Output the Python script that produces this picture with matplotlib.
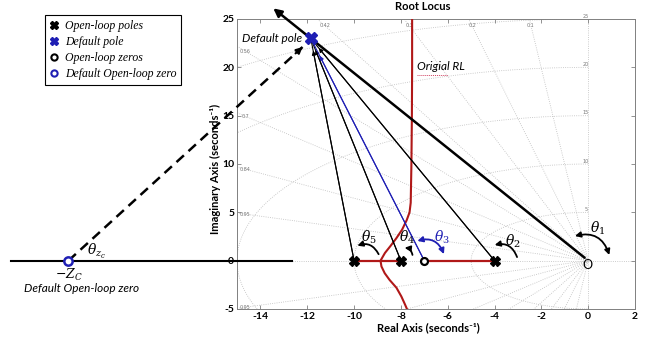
import numpy as np
import matplotlib
matplotlib.use("Agg")
import matplotlib.pyplot as plt
from matplotlib.lines import Line2D
from matplotlib.patches import FancyArrowPatch

plt.rcParams["axes.unicode_minus"] = False
plt.rcParams["mathtext.fontset"] = "dejavuserif"

SANS = ["Lato", "DejaVu Sans"]
SERIF = ["Liberation Serif", "DejaVu Serif"]

# ---- system data -------------------------------------------------------
open_loop_poles = [-10.0, -8.0, -4.0]
open_loop_zeros = [-7.0]
default_pole = (-11.85, 23.0)
default_zero = -22.2

# complex branch of the original root locus
locus_re = [-7.52, -7.52, -7.53, -7.55, -7.58, -7.63, -7.75, -7.95, -8.2,
            -8.45, -8.68, -8.87, -8.83, -8.69, -8.48, -8.19, -7.98, -7.83, -7.74]
locus_im = [25.0, 20.0, 15.0, 10.0, 6.0, 5.0, 4.2, 3.2, 2.3,
            1.5, 0.8, 0.0, -0.6, -1.3, -2.0, -2.8, -3.7, -4.5, -5.0]
# real-axis parts of the locus
real_axis_segments = [(-10.0, -8.0), (-7.0, -4.0)]

# s-plane grid
damping = [0.1, 0.2, 0.3, 0.42, 0.56, 0.7, 0.84, 0.95]
nat_freq = [5, 10, 15, 20, 25]

x_ticks = [-14, -12, -10, -8, -6, -4, -2, 0, 2]
y_ticks = [-5, 0, 5, 10, 15, 20, 25]

# ---- colours ----------------------------------------------------------
RED = "#b01818"
BLUE = "#1f1fb4"
GRID = "#bcbcbc"

fig = plt.figure(figsize=(6.49, 3.38), dpi=100)
ax = fig.add_axes([0.3652, 0.0858, 0.6132, 0.858])
ax.set_xlim(-15, 2)
ax.set_ylim(-5, 25)

# damping-ratio rays and natural-frequency arcs
for z in damping:
    ang = np.arccos(z)
    for s in (1, -1):
        ax.plot([0, -60 * np.cos(ang)], [0, s * 60 * np.sin(ang)], ls=":",
                color=GRID, lw=0.6, zorder=1)
t = np.linspace(np.pi / 2, 3 * np.pi / 2, 300)
for w in nat_freq:
    ax.plot(w * np.cos(t), w * np.sin(t), ls=":", color=GRID, lw=0.6, zorder=1)
ax.axhline(0, ls=":", color=GRID, lw=0.6, zorder=1)
ax.axvline(0, ls=":", color=GRID, lw=0.6, zorder=1)

# grid labels
for z in damping[:4]:
    yl = 24.3
    ax.text(-yl / np.tan(np.arccos(z)), yl, f"{z:g}", fontsize=3.5,
            color="#777777", ha="center", va="center")
for z in damping[4:]:
    xl = -14.65
    ax.text(xl, -xl * np.tan(np.arccos(z)), f"{z:g}", fontsize=3.5,
            color="#777777", ha="center", va="center")
ax.text(-14.65, -4.82, f"{damping[-1]:g}", fontsize=3.5, color="#777777",
        ha="center", va="center")
for w in nat_freq:
    ax.text(-0.1, w + 0.3, f"{w}", fontsize=3.5, color="#777777",
            ha="center", va="center")

# original root locus
ax.plot(locus_re, locus_im, color=RED, lw=1.5, zorder=3)
for a, b in real_axis_segments:
    ax.plot([a, b], [0, 0], color=RED, lw=1.6, zorder=3)

# vectors from the default pole to every pole / zero
px, py = default_pole
for p in open_loop_poles:
    ax.plot([px, p], [py, 0], color="k", lw=0.8, zorder=4)
    ax.annotate("", xy=default_pole, xytext=(p, 0),
                arrowprops=dict(arrowstyle="-|>", color="k", lw=0.8,
                                mutation_scale=6, shrinkA=0, shrinkB=9))
for zz in open_loop_zeros:
    ax.plot([px, zz], [py, 0], color=BLUE, lw=0.8, zorder=4)
    ax.annotate("", xy=default_pole, xytext=(zz, 0),
                arrowprops=dict(arrowstyle="-|>", color=BLUE, lw=0.8,
                                mutation_scale=6, shrinkA=0, shrinkB=14))

# vector from the origin through the default pole
ax.annotate("", xy=(-13.45, 26.1), xytext=(-0.15, 0.3), annotation_clip=False,
            arrowprops=dict(arrowstyle="-|>", color="k", lw=1.8,
                            mutation_scale=12, shrinkA=0, shrinkB=0))

# dashed vector from the compensator zero to the default pole
ax.plot([default_zero, -12.2], [0, 22.1], ls=(0, (4, 2.5)), lw=1.8,
        color="k", clip_on=False, zorder=4)
ax.annotate("", xy=(-12.2, 22.1), xytext=(-12.5, 21.44), annotation_clip=False,
            arrowprops=dict(arrowstyle="-|>", color="k", lw=1.5,
                            mutation_scale=9, shrinkA=0, shrinkB=0))

# horizontal real axis through the compensator zero
ax.plot([-24.66, -12.67], [0, 0], color="k", lw=1.5, clip_on=False, zorder=4)

# angle arcs
arcs = [
    ((-0.68, 2.48), (0.94, 0.31), -0.5, "<|-|>", "k"),
    ((-4.11, 1.55), (-3.0, 0.1), -0.5, "<|-", "k"),
    ((-7.41, 1.96), (-6.12, 0.41), -0.5, "<|-|>", BLUE),
    ((-7.96, 1.34), (-7.49, 0.31), -0.5, "<|-", "k"),
    ((-9.97, 1.45), (-8.9, 0.41), -0.5, "<|-", "k"),
]
for a, b, rad, style, col in arcs:
    ax.add_patch(FancyArrowPatch(a, b, connectionstyle=f"arc3,rad={rad}",
                                 arrowstyle=style, mutation_scale=8, lw=1.3,
                                 color=col, zorder=5))

theta_labels = [
    (0.39, 3.3, r"$\theta_1$", "k"),
    (-3.21, 1.96, r"$\theta_2$", "k"),
    (-6.25, 2.38, r"$\theta_3$", BLUE),
    (-7.75, 2.38, r"$\theta_4$", "k"),
    (-9.38, 2.38, r"$\theta_5$", "k"),
]
for x, y, s, col in theta_labels:
    ax.text(x, y, s, fontsize=10, color=col, ha="center", va="center")
ax.text(-21.02, 0.93, r"$\theta_{z_c}$", fontsize=10, ha="center", va="center")

# markers
ax.plot(open_loop_poles, [0] * len(open_loop_poles), "X", color="k", ms=7,
        zorder=6)
ax.plot(open_loop_zeros, [0] * len(open_loop_zeros), "o", mfc="white",
        mec="k", ms=5, mew=1.6, zorder=6)
ax.plot([default_pole[0]], [default_pole[1]], "X", color=BLUE, ms=8, zorder=6)
ax.plot([default_zero], [0], "o", mfc="white", mec=BLUE, ms=6, mew=1.8,
        clip_on=False, zorder=6)

# annotations
ax.text(-0.04, -0.45, "O", fontsize=9, family=SANS, ha="center", va="center")
ax.text(-12.24, 22.96, "Default pole", fontsize=8.5, family=SANS,
        style="italic", ha="right", va="center")
ax.text(-7.32, 20.06, "Origial RL", fontsize=8.5, family=SANS,
        style="italic", ha="left", va="center")
ax.plot([-7.32, -6.0], [19.25, 19.25], color="#d04060", lw=0.7, ls=(0, (1, 1)))
ax.text(-22.17, -1.45, r"$-Z_C$", fontsize=9, ha="center", va="center")
ax.text(-21.62, -2.9, "Default Open-loop zero", fontsize=8.5, family=SANS,
        style="italic", ha="center", va="center")

# axes styling
for sp in ax.spines.values():
    sp.set_color("#808080")
    sp.set_linewidth(0.7)
ax.set_xticks(x_ticks)
ax.set_yticks(y_ticks)
ax.tick_params(direction="in", length=3, width=0.6, color="#808080",
               top=True, right=True, labelsize=7.5, pad=2)
for lab in ax.get_xticklabels() + ax.get_yticklabels():
    lab.set_family(SANS)
    lab.set_fontweight("bold")

fig.text(423 / 649, 1 - 7 / 338, "Root Locus", fontsize=8, family=SANS,
         fontweight="bold", ha="center", va="center")
fig.text(428 / 649, 1 - 328 / 338, "Real Axis (seconds\u207b\u00b9)",
         fontsize=8, family=SANS, fontweight="bold", ha="center", va="center")
fig.text(215 / 649, 1 - 169 / 338, "Imaginary Axis (seconds\u207b\u00b9)",
         fontsize=8, family=SANS, fontweight="bold", ha="center", va="center",
         rotation=90)

# legend
handles = [
    Line2D([], [], marker="X", color="k", ls="none", ms=6),
    Line2D([], [], marker="X", color=BLUE, ls="none", ms=6),
    Line2D([], [], marker="o", mfc="white", mec="k", mew=1.5, ls="none", ms=4.5),
    Line2D([], [], marker="o", mfc="white", mec=BLUE, mew=1.5, ls="none", ms=4.5),
]
labels = ["Open-loop poles", "Default pole", "Open-loop zeros",
          "Default Open-loop zero"]
leg = fig.legend(handles, labels, loc="upper left",
                 bbox_to_anchor=(45 / 649, 1 - 15 / 338),
                 bbox_transform=fig.transFigure, borderaxespad=0,
                 frameon=True, fancybox=False, edgecolor="k", framealpha=1,
                 prop=dict(family=SERIF, style="italic", size=8.5),
                 handlelength=0.8, handletextpad=0.5, labelspacing=0.35,
                 borderpad=0.4)
leg.get_frame().set_linewidth(0.8)

fig.savefig("out.png", dpi=100)
